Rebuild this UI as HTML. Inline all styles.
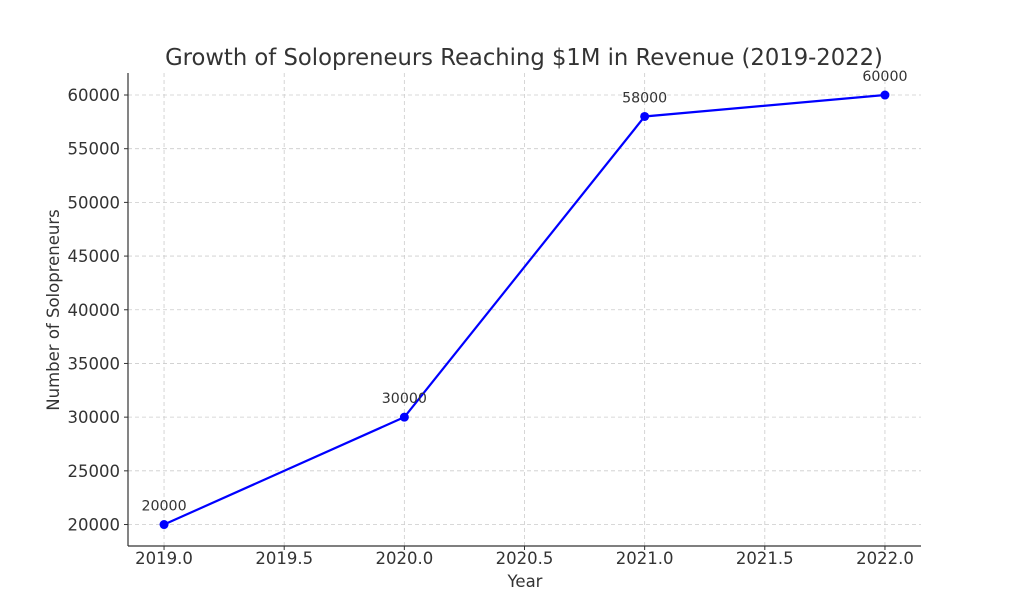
<!DOCTYPE html>
<html><head><meta charset="utf-8"><style>
html,body{margin:0;padding:0;background:#fff;}
svg{display:block;font-family:"DejaVu Sans","Liberation Sans",sans-serif;}
</style></head><body>
<svg id="chart" width="1024" height="614" viewBox="0 0 1024 614">
<text x="524" y="65" font-size="22.7" fill="#333" text-anchor="middle">Growth of Solopreneurs Reaching $1M in Revenue (2019-2022)</text>
<g id="grid"></g><g id="axes"></g><g id="marks"></g>
<text x="525" y="587" font-size="16.5" fill="#333" text-anchor="middle">Year</text>
<text transform="translate(59,310) rotate(-90)" font-size="16.5" fill="#333" text-anchor="middle">Number of Solopreneurs</text>
</svg>
<script>
const years=[2019,2020,2021,2022];
const values=[20000,30000,58000,60000];
const xTicks=[2019.0,2019.5,2020.0,2020.5,2021.0,2021.5,2022.0];
const yTicks=[20000,25000,30000,35000,40000,45000,50000,55000,60000];
const L=128,R=921,T=73,B=546;
const xMin=2018.85,xMax=2022.15,yMin=18000,yMax=62050;
const sx=v=>L+(v-xMin)/(xMax-xMin)*(R-L);
const sy=v=>B-(v-yMin)/(yMax-yMin)*(B-T);
const NS="http://www.w3.org/2000/svg";
function mk(tag,attrs,parent){const e=document.createElementNS(NS,tag);for(const k in attrs)e.setAttribute(k,attrs[k]);parent.appendChild(e);return e;}
const grid=document.getElementById('grid'),axes=document.getElementById('axes'),marks=document.getElementById('marks');
xTicks.forEach(t=>{const x=sx(t);
 const g=mk('line',{x1:x,x2:x,y1:T,y2:B,stroke:'#ccc','stroke-dasharray':'4,3','stroke-width':0.8},grid);
 
 
 mk('line',{x1:x,x2:x,y1:B,y2:B+4,stroke:'#333'},axes);
 const tx=mk('text',{x:x,y:B+18,'font-size':16.5,fill:'#333','text-anchor':'middle'},axes);tx.textContent=t.toFixed(1);
 
 
});
yTicks.forEach(t=>{const y=sy(t);
 const g=mk('line',{x1:L,x2:R,y1:y,y2:y,stroke:'#ccc','stroke-dasharray':'4,3','stroke-width':0.8},grid);
 
 
 mk('line',{x1:L-4,x2:L,y1:y,y2:y,stroke:'#333'},axes);
 const tx=mk('text',{x:L-8,y:y+6,'font-size':16.5,fill:'#333','text-anchor':'end'},axes);tx.textContent=t;
 
 
});
const ya=mk('line',{x1:L,x2:L,y1:T,y2:B,stroke:'#333','stroke-width':1.2},axes);


const xa=mk('line',{x1:L,x2:R,y1:B,y2:B,stroke:'#333','stroke-width':1.2},axes);


const pl=mk('polyline',{points:years.map((y,i)=>sx(y)+','+sy(values[i])).join(' '),fill:'none',stroke:'#0000ff','stroke-width':2.2},marks);


years.forEach((y,i)=>{
 const c=mk('circle',{cx:sx(y),cy:sy(values[i]),r:4.5,fill:'#0000ff'},marks);
 
 
 const t=mk('text',{x:sx(y),y:sy(values[i])-14,'font-size':14.2,fill:'#333','text-anchor':'middle'},marks);
 t.textContent=values[i];
 
 
});
</script>
</body></html>
